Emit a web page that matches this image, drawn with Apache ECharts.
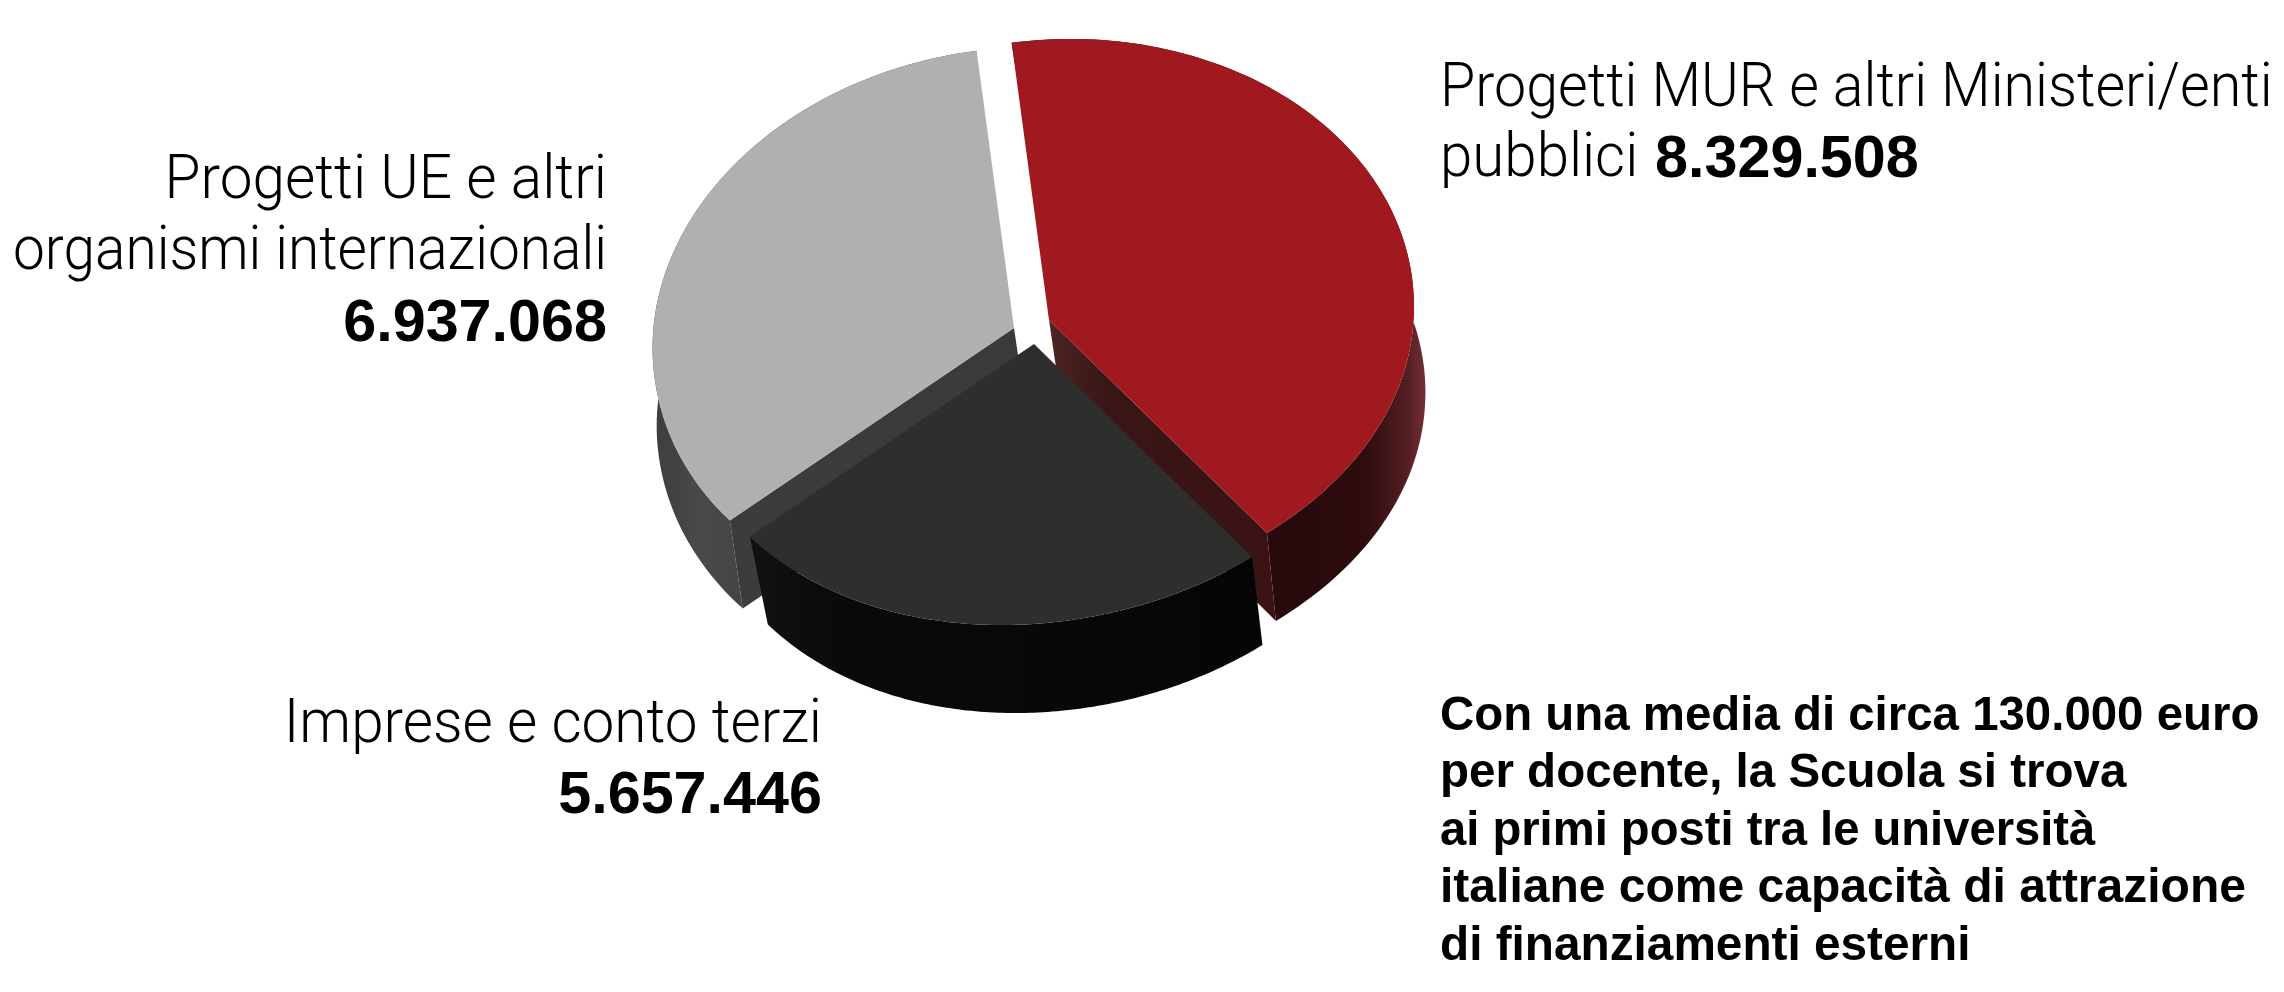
<!DOCTYPE html>
<html><head><meta charset="utf-8">
<style>html,body{margin:0;padding:0;background:#fff}#c{width:2284px;height:992px}</style>
<script src="https://cdn.jsdelivr.net/npm/echarts@6/dist/echarts.min.js"></script>
</head><body><div id="c"></div>
<script>
const categories = ['Progetti MUR e altri Ministeri/enti pubblici', 'Imprese e conto terzi', 'Progetti UE e altri organismi internazionali'];
const values = [8329508, 5657446, 6937068];
const valueLabels = ['8.329.508', '5.657.446', '6.937.068'];
const noteLines = ['Con una media di circa 130.000 euro', 'per docente, la Scuola si trova', 'ai primi posti tra le università', 'italiane come capacità di attrazione', 'di finanziamenti esterni'];

const view = {rx: 361, ry: 281, m: .1, s: 18, c: 31, t: -3, q: 10, start: -8, depthY: 88};
const sliceStyle = [
  {o: [1049, 320], top: '#a0191e', z: 2, dx: [11, 3, 0],
   wall: {x: 1290, x2: 1426, stops: [[0, '#280a0c'], [.55, '#2e0c0e'], [.85, '#521e22'], [1, '#742e34']]},
   inner: {x: 1049, x2: 1280, stops: [[0, '#4d2424'], [.25, '#3a1616'], [1, '#3a1214']]}},
  {o: [1034, 344], top: '#2e2e2c', z: 10, dx: [14, 0, -5],
   wall: {x: 760, x2: 1270, stops: [[0, '#111111'], [.15, '#0a0a0a'], [1, '#040605']]},
   inner: {x: 0, x2: 1, stops: [[0, '#111'], [1, '#111']]}},
  {o: [1014, 328], top: '#b0b0b0', z: 1, dx: [5, -13, 0],
   wall: {x: 655, x2: 745, stops: [[0, '#3e3e3e'], [.5, '#4a4a4a'], [1, '#444444']]},
   inner: {x: 727, x2: 1027, stops: [[0, '#3c3c3c'], [1, '#3a3a3a']]}}
];

function pt(deg, o, dx) {
  const a = deg * Math.PI / 180, X = Math.sin(a), Y = Math.cos(a), v = view;
  const low = Math.max(0, -Y);
  return [o[0] + v.rx * X * (1 + v.m * Y) + v.s * Y - v.q * low * low + (dx ? dx[0] + dx[1] * Y + dx[2] * X : 0),
          o[1] - v.ry * Y + v.c * (1 - Y * Y) + v.t * X + (dx ? v.depthY : 0)];
}
function grad(g) {
  return {type: 'linear', global: true, x: g.x, y: 0, x2: g.x2, y2: 0,
    colorStops: g.stops.map(s => ({offset: s[0], color: s[1]}))};
}
const total = values.reduce((a, b) => a + b, 0);

function renderSlice(params, api) {
  const i = params.dataIndex, st = sliceStyle[i];
  let before = 0;
  for (let k = 0; k < i; k++) before += values[k];
  const a0 = view.start + before / total * 360;
  const a1 = a0 + api.value(0) / total * 360;
  const topArc = [], lowArc = [];
  const N = 120;
  for (let k = 0; k <= N; k++) {
    const a = a0 + (a1 - a0) * k / N;
    topArc.push(pt(a, st.o));
    lowArc.push(pt(a, st.o, st.dx));
  }
  const apex = st.o, apexLow = [st.o[0] + 13, st.o[1] + view.depthY];
  const children = [];
  children.push({type: 'polygon', z2: st.z, shape: {points: topArc.concat(lowArc.slice().reverse())}, style: {fill: grad(st.wall)}});
  if (i === 0) children.push({type: 'polygon', z2: st.z, shape: {points: [apex, topArc[N], lowArc[N], apexLow]}, style: {fill: grad(st.inner)}});
  if (i === 2) children.push({type: 'polygon', z2: st.z, shape: {points: [apex, topArc[0], lowArc[0], apexLow]}, style: {fill: grad(st.inner)}});
  children.push({type: 'polygon', z2: st.z, shape: {points: [apex].concat(topArc)}, style: {fill: st.top}});
  return {type: 'group', children};
}

const LIGHT = {font: '300 61px "Roboto"', size: 61};
const VAL = {font: 'bold 59px "Liberation Sans"', size: 59};
const BOLD = {font: 'bold 47.5px "Liberation Sans"', size: 47.5};
function txt(x, y, text, f, sx, align) {
  return {type: 'text', x, y: y - f.size * .74, scaleX: sx, silent: true,
    style: {text, font: f.font, fill: '#000', textAlign: align || 'left', textBaseline: 'top'}};
}
const noteBaselines = [728, 785, 843, 900, 958];
const noteScale = [.998, 1, .993, 1.011, 1.005];
const graphics = [
  txt(1440, 105, 'Progetti MUR e altri Ministeri/enti', LIGHT, .94),
  txt(1440, 175, 'pubblici', LIGHT, .955),
  txt(1655, 175, valueLabels[0], VAL, 1.005),
  txt(607, 197, 'Progetti UE e altri', LIGHT, .959, 'right'),
  txt(607, 268, 'organismi internazionali', LIGHT, .931, 'right'),
  txt(607, 339, valueLabels[2], VAL, 1.005, 'right'),
  txt(822, 741, 'Imprese e conto terzi', LIGHT, .958, 'right'),
  txt(822, 811, valueLabels[1], VAL, 1.005, 'right')
].concat(noteLines.map((l, i) => txt(1440, noteBaselines[i], l, BOLD, noteScale[i])));

const chart = echarts.init(document.getElementById('c'), null, {renderer: 'canvas'});
chart.setOption({
  animation: false,
  backgroundColor: '#fff',
  graphic: {elements: graphics},
  series: [{type: 'custom', coordinateSystem: 'none', renderItem: renderSlice, silent: true,
    data: values.map((v, i) => ({name: categories[i], value: v}))}]
});
</script></body></html>
